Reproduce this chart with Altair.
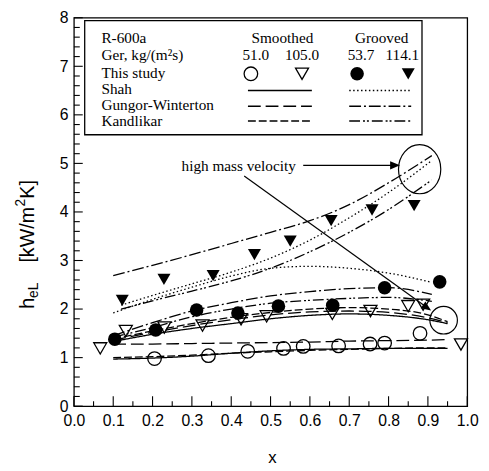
import altair as alt
import pandas as pd

# ---------------- measured points: vapor quality x, h_eL [kW/m2K] ----------------
sm51_x = [0.205, 0.342, 0.442, 0.533, 0.583, 0.673, 0.753, 0.790, 0.880]
sm51_y = [0.98, 1.04, 1.13, 1.19, 1.23, 1.24, 1.28, 1.30, 1.50]
sm105_x = [0.067, 0.132, 0.230, 0.327, 0.425, 0.490, 0.657, 0.754, 0.850, 0.888, 0.984]
sm105_y = [1.19, 1.55, 1.62, 1.66, 1.79, 1.85, 1.90, 1.96, 2.06, 2.09, 1.27]
gr54_x = [0.104, 0.208, 0.312, 0.417, 0.520, 0.658, 0.790, 0.930]
gr54_y = [1.38, 1.57, 1.98, 1.92, 2.06, 2.08, 2.44, 2.56]
gr114_x = [0.123, 0.229, 0.354, 0.459, 0.550, 0.654, 0.758, 0.865]
gr114_y = [2.18, 2.61, 2.69, 3.12, 3.40, 3.82, 4.04, 4.13]

# ---------------- correlation curves ----------------
sm_cx = [0.10, 0.20, 0.30, 0.40, 0.50, 0.60, 0.70, 0.80, 0.90, 0.95]
shah_sm51 = [0.97, 0.99, 1.03, 1.09, 1.14, 1.17, 1.18, 1.19, 1.19, 1.19]
gw_sm51 = [1.28, 1.28, 1.29, 1.30, 1.31, 1.32, 1.34, 1.35, 1.36, 1.37]
kan_sm51 = [1.00, 1.02, 1.05, 1.09, 1.12, 1.15, 1.17, 1.19, 1.20, 1.20]
shah_sm105 = [1.33, 1.48, 1.60, 1.70, 1.80, 1.87, 1.90, 1.87, 1.78, 1.70]
gw_sm105 = [1.36, 1.52, 1.66, 1.78, 1.88, 1.94, 1.96, 1.93, 1.82, 1.72]
kan_sm105 = [1.38, 1.55, 1.70, 1.83, 1.93, 2.00, 2.03, 2.00, 1.88, 1.74]

gr_cx = [0.10, 0.20, 0.30, 0.40, 0.50, 0.60, 0.70, 0.80, 0.91]
gr_cx2 = [0.12, 0.20, 0.30, 0.40, 0.50, 0.60, 0.70, 0.80, 0.91]
shah_gr54 = [1.92, 2.20, 2.45, 2.68, 2.84, 2.88, 2.84, 2.74, 2.55]
gw_gr54 = [1.45, 1.72, 1.96, 2.13, 2.27, 2.36, 2.42, 2.44, 2.30]
kan_gr54 = [1.42, 1.62, 1.84, 2.00, 2.12, 2.18, 2.22, 2.24, 2.16]
shah_gr114 = [2.08, 2.28, 2.52, 2.76, 3.05, 3.42, 3.88, 4.40, 5.06]
gw_gr114 = [2.69, 2.90, 3.12, 3.35, 3.58, 3.82, 4.15, 4.60, 5.16]
kan_gr114 = [2.00, 2.17, 2.37, 2.58, 2.84, 3.18, 3.58, 4.05, 4.66]

# ---------------- axes ----------------
x_ticks = [0.0, 0.1, 0.2, 0.3, 0.4, 0.5, 0.6, 0.7, 0.8, 0.9, 1.0]
x_minor = [0.05, 0.15, 0.25, 0.35, 0.45, 0.55, 0.65, 0.75, 0.85, 0.95]
y_ticks = [0, 1, 2, 3, 4, 5, 6, 7, 8]
y_minor = [0.2, 0.4, 0.6, 0.8, 1.2, 1.4, 1.6, 1.8, 2.2, 2.4, 2.6, 2.8,
           3.2, 3.4, 3.6, 3.8, 4.2, 4.4, 4.6, 4.8, 5.2, 5.4, 5.6, 5.8,
           6.2, 6.4, 6.6, 6.8, 7.2, 7.4, 7.6, 7.8]

W, H = 400, 395
SERIF = "Liberation Serif"
SANS = "Liberation Sans"

xs = alt.Scale(domain=[0, 1], nice=False, zero=False)
ys = alt.Scale(domain=[0, 8], nice=False, zero=False)
xaxis = alt.Axis(values=x_ticks, format=".1f", ticks=False, domain=False, grid=False,
                 labelFont=SANS, labelFontSize=16, labelColor="black", labelPadding=7,
                 labelFlush=False, labelOverlap=False, title=None)
yaxis = alt.Axis(values=y_ticks, format="d", ticks=False, domain=False, grid=False,
                 labelFont=SANS, labelFontSize=16, labelColor="black", labelPadding=6,
                 labelOverlap=False, title=None)


def X(f):
    return alt.X(f, type="quantitative", scale=xs, axis=xaxis)


def Y(f):
    return alt.Y(f, type="quantitative", scale=ys, axis=yaxis)


def PX(f):
    return alt.X(f, type="quantitative", scale=None, axis=None)


def PY(f):
    return alt.Y(f, type="quantitative", scale=None, axis=None)


layers = []

# tick marks (inward)
layers.append(alt.Chart(pd.DataFrame({"t": x_ticks})).mark_rule(color="black", strokeWidth=1.1)
              .encode(x=X("t"), y=alt.value(H), y2=alt.value(H - 10)))
layers.append(alt.Chart(pd.DataFrame({"t": x_minor})).mark_rule(color="black", strokeWidth=1.1)
              .encode(x=X("t"), y=alt.value(H), y2=alt.value(H - 5)))
layers.append(alt.Chart(pd.DataFrame({"t": y_ticks})).mark_rule(color="black", strokeWidth=1.1)
              .encode(y=Y("t"), x=alt.value(0), x2=alt.value(9)))
layers.append(alt.Chart(pd.DataFrame({"t": y_minor})).mark_rule(color="black", strokeWidth=1.1)
              .encode(y=Y("t"), x=alt.value(0), x2=alt.value(6)))

# correlation lines
DASH = {
    "shah_s": [1, 0],
    "gw_s": [13, 5],
    "kan_s": [8, 3],
    "shah_g": [1.5, 2.5],
    "gw_g": [12, 3, 2, 3],
    "kan_g": [11, 3, 2, 2, 2, 3],
}
curves = [
    (sm_cx, shah_sm51, "shah_s"), (sm_cx, gw_sm51, "gw_s"), (sm_cx, kan_sm51, "kan_s"),
    (sm_cx, shah_sm105, "shah_s"), (sm_cx, gw_sm105, "gw_s"), (sm_cx, kan_sm105, "kan_s"),
    (gr_cx, shah_gr54, "shah_g"), (gr_cx, gw_gr54, "gw_g"), (gr_cx, kan_gr54, "kan_g"),
    (gr_cx2, shah_gr114, "shah_g"), (gr_cx, gw_gr114, "gw_g"), (gr_cx2, kan_gr114, "kan_g"),
]
for cx, cy, style in curves:
    layers.append(alt.Chart(pd.DataFrame({"x": cx, "y": cy}))
                  .mark_line(color="black", strokeWidth=1.3, strokeDash=DASH[style],
                             interpolate="monotone")
                  .encode(x=X("x"), y=Y("y")))

# measured points
pts = [
    (sm51_x, sm51_y, "circle", False, 190),
    (sm105_x, sm105_y, "triangle-down", False, 175),
    (gr54_x, gr54_y, "circle", True, 190),
    (gr114_x, gr114_y, "triangle-down", True, 175),
]
for px_, py_, shp, fil, sz in pts:
    layers.append(alt.Chart(pd.DataFrame({"x": px_, "y": py_}))
                  .mark_point(shape=shp, filled=fil, size=sz, color="black", strokeWidth=1.3, opacity=1)
                  .encode(x=X("x"), y=Y("y")))

# annotations (data coordinates)
ARROW = "M-1,-0.42L0,0L-1,0.42Z"
ann_text = pd.DataFrame({"x": [0.419], "y": [4.94], "t": ["high mass velocity"]})
layers.append(alt.Chart(ann_text).mark_text(font=SERIF, fontSize=15.5, color="black",
                                             align="center", baseline="middle")
              .encode(x=X("x"), y=Y("y"), text="t:N"))
ann_lines = pd.DataFrame({"x": [0.583, 0.433], "y": [4.96, 4.74],
                          "x2": [0.822, 0.903], "y2": [4.96, 2.00]})
layers.append(alt.Chart(ann_lines).mark_rule(color="black", strokeWidth=1.2)
              .encode(x=X("x"), y=Y("y"), x2="x2:Q", y2="y2:Q"))
ann_heads = pd.DataFrame({"x": [0.829, 0.908], "y": [4.96, 1.97], "a": [0, 35.4]})
layers.append(alt.Chart(ann_heads).mark_point(shape=ARROW, size=400, filled=True, color="black", opacity=1)
              .encode(x=X("x"), y=Y("y"), angle=alt.Angle("a:Q", scale=None)))
layers.append(alt.Chart(pd.DataFrame({"x": [0.879], "y": [4.88]}))
              .mark_point(shape="M-1,0A1,1.16,0,1,1,1,0A1,1.16,0,1,1,-1,0Z", size=1849,
                          filled=False, color="black", strokeWidth=1.2, opacity=1)
              .encode(x=X("x"), y=Y("y")))
layers.append(alt.Chart(pd.DataFrame({"x": [0.940], "y": [1.77]}))
              .mark_point(shape="circle", size=784, filled=False, color="black", strokeWidth=1.2, opacity=1)
              .encode(x=X("x"), y=Y("y")))

# ---------------- legend (pixel layout inside the plot) ----------------
layers.append(alt.Chart(pd.DataFrame({"x1": [11], "x2": [354], "y1": [3], "y2": [119]}))
              .mark_rect(fill="white", stroke="black", strokeWidth=1.3)
              .encode(x=PX("x1"), x2="x2:Q", y=PY("y1"), y2="y2:Q"))

LF = 15.5
leg_labels = ["R-600a", "Ger, kg/(m\u00b2s)", "This study", "Shah", "Gungor-Winterton", "Kandlikar"]
leg_label_y = [21, 38, 56, 73, 89, 105]
layers.append(alt.Chart(pd.DataFrame({"px": [28] * 6, "py": leg_label_y, "t": leg_labels}))
              .mark_text(font=SERIF, fontSize=LF, color="black", align="left", baseline="middle")
              .encode(x=PX("px"), y=PY("py"), text="t:N"))

leg_heads = ["Smoothed", "Grooved", "51.0", "105.0", "53.7", "114.1"]
layers.append(alt.Chart(pd.DataFrame({"px": [212, 313, 185, 232, 292, 334],
                                      "py": [21, 21, 38, 38, 38, 38], "t": leg_heads}))
              .mark_text(font=SERIF, fontSize=LF, color="black", align="center", baseline="middle")
              .encode(x=PX("px"), y=PY("py"), text="t:N"))

leg_sym = [(180, "circle", False, 190), (232, "triangle-down", False, 175),
           (288, "circle", True, 190), (340, "triangle-down", True, 175)]
for sx, shp, fil, sz in leg_sym:
    layers.append(alt.Chart(pd.DataFrame({"px": [sx], "py": [57]}))
                  .mark_point(shape=shp, filled=fil, size=sz, color="black", strokeWidth=1.3, opacity=1)
                  .encode(x=PX("px"), y=PY("py")))

leg_lines = [(177, 242, 74, "shah_s"), (177, 242, 90, "gw_s"), (177, 242, 105, "kan_s"),
             (280, 343, 74, "shah_g"), (280, 343, 90, "gw_g"), (280, 343, 105, "kan_g")]
for a, b, yy, style in leg_lines:
    layers.append(alt.Chart(pd.DataFrame({"px": [a], "px2": [b], "py": [yy]}))
                  .mark_rule(color="black", strokeWidth=1.3, strokeDash=DASH[style])
                  .encode(x=PX("px"), x2="px2:Q", y=PY("py")))

# ---------------- axis titles ----------------
layers.append(alt.Chart(pd.DataFrame({"px": [202], "py": [448], "t": ["x"]}))
              .mark_text(font=SANS, fontSize=17, color="black", align="center", baseline="middle")
              .encode(x=PX("px"), y=PY("py"), text="t:N"))
ytitle_main = pd.DataFrame({"px": [-47, -47, -47], "py": [296, 249, 184], "t": ["h", "[kW/m", "K]"]})
layers.append(alt.Chart(ytitle_main)
              .mark_text(font=SANS, fontSize=20, color="black", align="left", baseline="middle", angle=270)
              .encode(x=PX("px"), y=PY("py"), text="t:N"))
ytitle_small = pd.DataFrame({"px": [-41, -54], "py": [285, 192], "t": ["eL", "2"]})
layers.append(alt.Chart(ytitle_small)
              .mark_text(font=SANS, fontSize=14, color="black", align="left", baseline="middle", angle=270)
              .encode(x=PX("px"), y=PY("py"), text="t:N"))

chart = (alt.layer(*layers)
         .properties(width=W, height=H, autosize=alt.AutoSizeParams(type="none"),
                     padding={"left": 67, "top": 6, "right": 14, "bottom": 60})
         .configure_view(stroke="black", strokeWidth=1.3))

chart.save("out.html", embed_options={"renderer": "svg", "actions": False})
